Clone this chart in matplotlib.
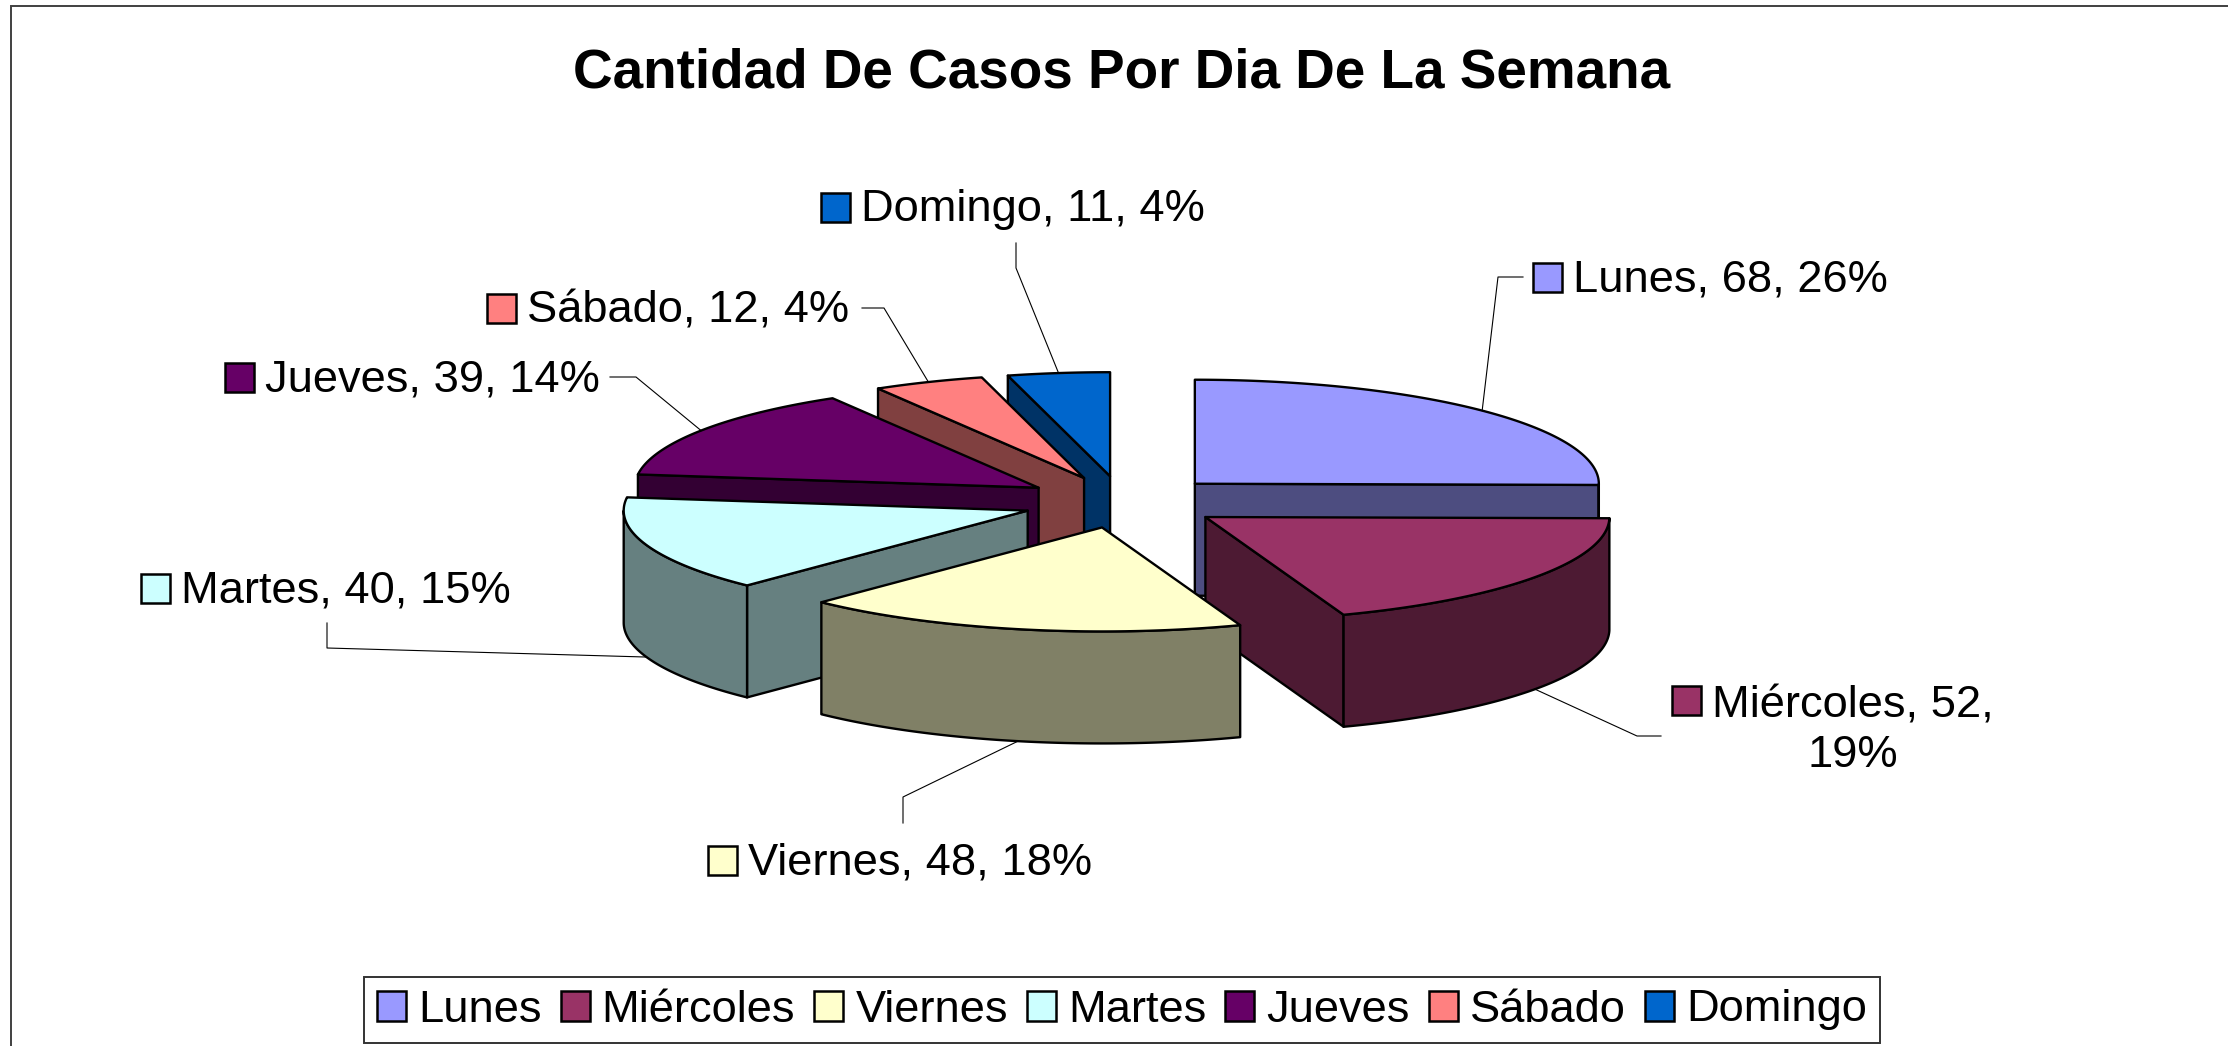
#!/usr/bin/env python3
# -*- coding: utf-8 -*-
"""
Gráfico de pastel 3D (estilo Excel) - cantidad de casos por día de la semana
"""

import numpy as np
import matplotlib
matplotlib.use('Agg')
import matplotlib.pyplot as plt
from matplotlib.patches import Polygon, Rectangle, Patch

plt.rcParams['font.family'] = ['Liberation Sans', 'DejaVu Sans']

# datos
dias = ['Lunes', 'Miércoles', 'Viernes', 'Martes', 'Jueves', 'Sábado', 'Domingo']
casos = [68, 52, 48, 40, 39, 12, 11]
porcentajes = [26, 19, 18, 15, 14, 4, 4]
colores = ['#9999FF', '#993366', '#FFFFCC', '#CCFFFF', '#660066', '#FF8080', '#0066CC']
colores_lado = ['#4D4D80', '#4D1A33', '#808066', '#668080', '#330033', '#804040', '#003366']
titulo = 'Cantidad De Casos Por Dia De La Semana'

# tamaño del lienzo en pixeles (se dibuja en coordenadas de pixel)
W, H = 2228, 1046
CX, CY = 1123, 502      # centro del pastel
RX, RY = 404, 104       # radios de la elipse
GROSOR = 112            # alto del pastel
EXPLOSION = 101         # separación de las porciones

# posición de cada etiqueta: (x del cuadrito, y centro) y el codo de la guía
etiquetas_pos = {
    'Lunes': (1533, 277),
    'Miércoles': (1672, 700),
    'Viernes': (708, 860),
    'Martes': (141, 588),
    'Jueves': (225, 377),
    'Sábado': (487, 308),
    'Domingo': (821, 207),
}
guias = {
    'Lunes': [(1523, 277), (1498, 277)],
    'Miércoles': [(1661, 736), (1637, 736)],
    'Viernes': [(903, 823), (903, 797)],
    'Martes': [(327, 623), (327, 648)],
    'Jueves': [(610, 377), (636, 377)],
    'Sábado': [(862, 308), (884, 308)],
    'Domingo': [(1016, 243), (1016, 268)],
}

fig = plt.figure(figsize=(W / 100, H / 100), dpi=100)
ax = fig.add_axes([0, 0, 1, 1])
ax.set_xlim(0, W)
ax.set_ylim(H, 0)
ax.axis('off')

k = RY / RX
total = sum(casos)


def arco(x0, y0, ts, dz=0):
    ts = np.radians(ts)
    return np.column_stack([x0 + RX * np.cos(ts), y0 - RY * np.sin(ts) + dz])


porciones = []
acum = 0
for i, v in enumerate(casos):
    t1 = 90 - acum * 360 / total
    t2 = t1 - v * 360 / total
    acum += v
    mid = (t1 + t2) / 2
    m = np.radians(mid)
    px = CX + EXPLOSION * np.cos(m)
    py = CY - EXPLOSION * k * np.sin(m)
    porciones.append((i, t1, t2, mid, px, py))

# pintar de atrás hacia adelante
orden = sorted(porciones, key=lambda p: -np.sin(np.radians(p[3])))
z = 1
lw = 1.7
for i, t1, t2, mid, px, py in orden:
    caras = []
    # caras radiales visibles
    for t, visible in ((t1, np.cos(np.radians(t1)) < -1e-6), (t2, np.cos(np.radians(t2)) > 1e-6)):
        if visible:
            p = arco(px, py, [t])[0]
            caras.append(([(px, py), tuple(p), (p[0], p[1] + GROSOR), (px, py + GROSOR)], colores_lado[i]))
    # pared exterior (parte frontal)
    ts = np.linspace(t2, t1, 400)
    ts = ts[np.sin(np.radians(ts)) < 0]
    if len(ts) > 1:
        arriba = arco(px, py, ts)
        abajo = arco(px, py, ts[::-1], GROSOR)
        caras.append((np.vstack([arriba, abajo]), colores_lado[i]))
    # cara superior
    sup = np.vstack([[(px, py)], arco(px, py, np.linspace(t1, t2, 300))])
    caras.append((sup, colores[i]))
    for pts, c in caras:
        ax.add_patch(Polygon(pts, closed=True, facecolor=c, edgecolor='black',
                             linewidth=lw, joinstyle='round', zorder=z))
        z += 1

# etiquetas con cuadrito de color y líneas guía
fs = 32.6
for i, t1, t2, mid, px, py in porciones:
    nombre = dias[i]
    kx, ky = etiquetas_pos[nombre]
    ax.add_patch(Rectangle((kx, ky - 14.5), 29, 29, facecolor=colores[i],
                           edgecolor='black', linewidth=1.8, zorder=50))
    texto = f'{nombre}, {casos[i]}, {porcentajes[i]}%'
    if nombre == 'Miércoles':
        texto = f'{nombre}, {casos[i]},\n{porcentajes[i]}%'
        ax.text(kx + 40, ky + 31, texto, fontsize=fs, ha='left', va='center',
                multialignment='center', linespacing=1.28, zorder=50)
    else:
        ax.text(kx + 40, ky + 3, texto, fontsize=fs, ha='left', va='center', zorder=50)
    fin = arco(px, py, [mid], GROSOR if np.sin(np.radians(mid)) < 0 else 0)[0]
    (x0, y0), (x1, y1) = guias[nombre]
    ax.plot([x0, x1, fin[0]], [y0, y1, fin[1]], color='black', linewidth=0.8, zorder=45)

# título
ax.text(1122, 74, titulo, fontsize=39.5, fontweight='bold', ha='center', va='center')

# borde del área del gráfico
ax.plot([11, 11, W], [H, 5.5, 5.5], color='#404040', linewidth=1.4, solid_joinstyle='miter')

# leyenda
handles = [Patch(facecolor=c, edgecolor='black', linewidth=1.8) for c in colores]
leg = fig.legend(handles, dias, loc='center', bbox_to_anchor=(1122 / W, 1 - 1010 / H),
                 ncol=7, fontsize=fs, frameon=True, fancybox=False, edgecolor='black',
                 handlelength=0.64, handleheight=0.64, handletextpad=0.27,
                 columnspacing=0.42, borderpad=0.28, borderaxespad=0)
leg.get_frame().set_linewidth(1.4)

fig.savefig('out.png', dpi=100)
